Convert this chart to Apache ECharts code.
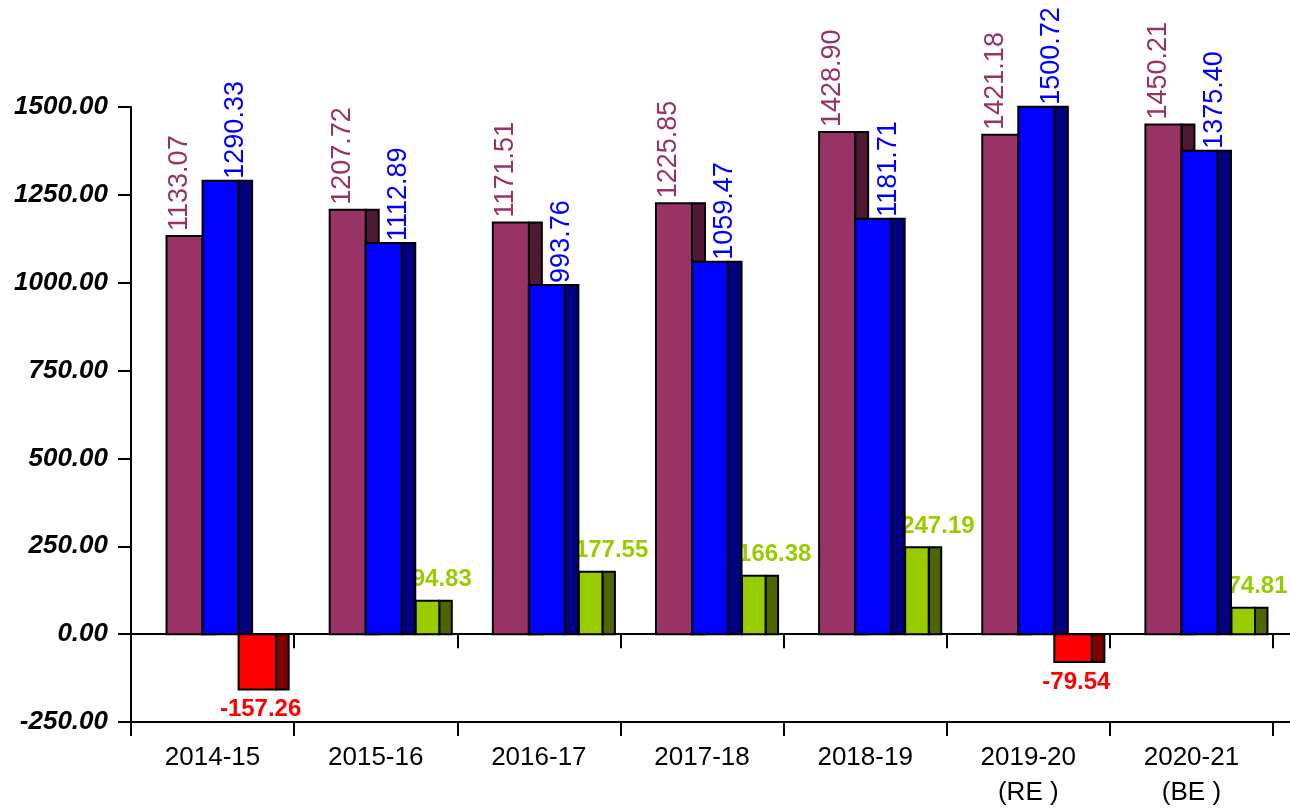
<!DOCTYPE html>
<html>
<head>
<meta charset="utf-8">
<script src="https://cdn.jsdelivr.net/npm/echarts@6/dist/echarts.min.js"></script>
<style>
html,body{margin:0;padding:0;background:#fff;}
#chart{width:1290px;height:811px;}
</style>
</head>
<body>
<div id="chart"></div>
<script>
const categories = ['2014-15', '2015-16', '2016-17', '2017-18', '2018-19', '2019-20\n(RE )', '2020-21\n(BE )'];
const seriesMaroon = [1133.07, 1207.72, 1171.51, 1225.85, 1428.90, 1421.18, 1450.21];
const seriesBlue = [1290.33, 1112.89, 993.76, 1059.47, 1181.71, 1500.72, 1375.40];
const seriesDiff = [-157.26, 94.83, 177.55, 166.38, 247.19, -79.54, 74.81];
const yMin = -250, yMax = 1500, yStep = 250;

const chart = echarts.init(document.getElementById('chart'), null, {renderer: 'canvas'});
const FONT = '"Liberation Sans", Arial, sans-serif';

function rect(x0, x1, y0, y1, fill, z2) {
  return {
    type: 'rect',
    shape: {x: x0, y: Math.min(y0, y1), width: x1 - x0, height: Math.abs(y1 - y0)},
    style: {fill: fill, stroke: '#000', lineWidth: 2},
    z2: z2
  };
}

function makeRender(kind) {
  return function (params, api) {
    const i = api.value(0), v = api.value(1);
    const top = api.coord([i, v]);
    const zero = api.coord([i, 0]);
    const cx = top[0];
    const s = api.size([1, 0])[0] / 163;
    const yT = top[1], y0 = zero[1];
    const children = [];
    const txt = v.toFixed(2);
    if (kind === 'maroon') {
      children.push({type: 'text', x: cx - 33 * s, y: yT - 5, rotation: Math.PI / 2, z2: 1,
        style: {text: txt, fill: '#993366', font: '27px ' + FONT, align: 'left', verticalAlign: 'middle'}});
      children.push(rect(cx - 10 * s, cx + 3 * s, yT, y0, '#4D1933', 10));
      children.push(rect(cx - 46 * s, cx - 10 * s, yT, y0, '#993366', 11));
    } else if (kind === 'blue') {
      children.push({type: 'text', x: cx + 23 * s, y: yT - 2, rotation: Math.PI / 2, z2: 2,
        style: {text: txt, fill: '#0000FF', font: '27px ' + FONT, align: 'left', verticalAlign: 'middle'}});
      children.push(rect(cx + 26 * s, cx + 39.5 * s, yT, y0, '#000080', 20));
      children.push(rect(cx - 10 * s, cx + 26 * s, yT, y0, '#0000FF', 21));
    } else {
      if (v >= 0) {
        children.push({type: 'text', x: cx + 36 * s, y: yT - 9, z2: 3,
          style: {text: txt, fill: '#99CC00', font: 'bold 24px ' + FONT, align: 'left', verticalAlign: 'bottom'}});
        children.push(rect(cx + 63.5 * s, cx + 76 * s, yT, y0, '#4D6600', 30));
        children.push(rect(cx + 40 * s, cx + 63.5 * s, yT, y0, '#99CC00', 31));
      } else {
        children.push({type: 'text', x: cx + 48 * s, y: yT + 8, z2: 3,
          style: {text: txt, fill: '#FF0000', font: 'bold 24px ' + FONT, align: 'center', verticalAlign: 'top'}});
        children.push(rect(cx + 63.5 * s, cx + 76 * s, yT, y0, '#800000', 30));
        children.push(rect(cx + 26 * s, cx + 63.5 * s, yT, y0, '#FF0000', 31));
      }
    }
    return {type: 'group', children: children};
  };
}

const lineStyle = {color: '#000', width: 2};

const option = {
  backgroundColor: '#fff',
  animation: false,
  grid: [
    {left: 131, right: 17, top: 107, bottom: 89},
    {left: 131, right: 0, top: 107, bottom: 89}
  ],
  xAxis: [
    {
      type: 'category', gridIndex: 0, data: categories, position: 'bottom',
      boundaryGap: true,
      axisLine: {show: true, onZero: false, lineStyle: lineStyle},
      axisTick: {show: true, length: 14, lineStyle: lineStyle},
      axisLabel: {
        color: '#000', fontFamily: FONT, fontSize: 26,
        lineHeight: 35, margin: 18, interval: 0
      },
      splitLine: {show: false}
    },
    {
      type: 'category', gridIndex: 0, data: categories, position: 'bottom',
      boundaryGap: true,
      axisLine: {show: true, onZero: true, lineStyle: lineStyle},
      axisTick: {show: true, length: 14, lineStyle: lineStyle},
      axisLabel: {show: false},
      splitLine: {show: false}
    },
    {
      type: 'value', gridIndex: 1, min: 0, max: 1, position: 'bottom',
      axisLine: {show: true, onZero: false, lineStyle: lineStyle},
      axisTick: {show: false}, axisLabel: {show: false}, splitLine: {show: false}
    },
    {
      type: 'value', gridIndex: 1, min: 0, max: 1, position: 'bottom',
      axisLine: {show: true, onZero: true, lineStyle: lineStyle},
      axisTick: {show: false}, axisLabel: {show: false}, splitLine: {show: false}
    }
  ],
  yAxis: [
    {
      type: 'value', gridIndex: 0, min: yMin, max: yMax, interval: yStep,
      axisLine: {show: true, onZero: false, lineStyle: lineStyle},
      axisTick: {show: true, length: 13, lineStyle: lineStyle},
      axisLabel: {
        color: '#000', fontFamily: FONT, fontSize: 26,
        fontWeight: 'bold', fontStyle: 'italic', margin: 23,
        formatter: function (v) { return v.toFixed(2); }
      },
      splitLine: {show: false}
    },
    {
      type: 'value', gridIndex: 1, min: yMin, max: yMax, interval: yStep, show: false
    }
  ],
  series: [
    {type: 'custom', name: 'A', xAxisIndex: 0, yAxisIndex: 0, renderItem: makeRender('maroon'),
      encode: {x: 0, y: 1}, data: seriesMaroon.map((v, i) => [i, v])},
    {type: 'custom', name: 'B', xAxisIndex: 0, yAxisIndex: 0, renderItem: makeRender('blue'),
      encode: {x: 0, y: 1}, data: seriesBlue.map((v, i) => [i, v])},
    {type: 'custom', name: 'C', xAxisIndex: 0, yAxisIndex: 0, renderItem: makeRender('diff'),
      encode: {x: 0, y: 1}, data: seriesDiff.map((v, i) => [i, v])}
  ]
};
chart.setOption(option);
</script>
</body>
</html>
